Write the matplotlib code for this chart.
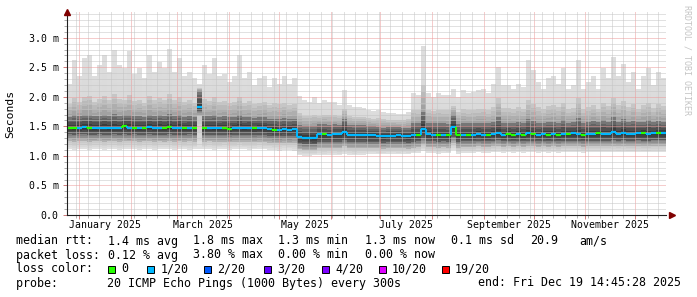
import numpy as np
import matplotlib
matplotlib.use("Agg")
import matplotlib.pyplot as plt
import matplotlib.dates as mdates
from matplotlib.colors import to_rgb
from matplotlib.patches import Rectangle
from matplotlib.ticker import MultipleLocator, FuncFormatter, NullFormatter

# %% Datos (ms), bins de 3 dias
start = np.datetime64("2024-12-24T14:45")
end = np.datetime64("2025-12-19T14:45:28")

smoke_top = [
    2.22, 2.62, 2.36, 2.65, 2.71, 2.36, 2.53, 2.71, 2.42, 2.79,
    2.53, 2.48, 2.77, 2.39, 2.48, 2.31, 2.71, 2.42, 2.59, 2.48,
    2.81, 2.42, 2.65, 2.36, 2.42, 2.31, 2.22, 2.53, 2.39, 2.65,
    2.36, 2.39, 2.25, 2.36, 2.70, 2.31, 2.42, 2.20, 2.31, 2.36,
    2.17, 2.31, 2.22, 2.36, 2.22, 2.31, 2.02, 1.94, 1.92, 2.00,
    1.89, 1.94, 1.92, 1.92, 1.86, 2.11, 1.86, 1.83, 1.82, 1.81,
    1.78, 1.76, 1.78, 1.74, 1.72, 1.72, 1.71, 1.71, 1.74, 2.06,
    2.03, 2.86, 2.06, 2.00, 2.06, 2.03, 2.03, 2.14, 2.00, 2.11,
    2.06, 2.08, 2.11, 2.14, 2.06, 2.22, 2.51, 2.20, 2.20, 2.14,
    2.22, 2.17, 2.62, 2.45, 2.25, 2.14, 2.31, 2.36, 2.22, 2.48,
    2.14, 2.20, 2.62, 2.14, 2.25, 2.36, 2.14, 2.48, 2.31, 2.68,
    2.36, 2.56, 2.25, 2.42, 2.14, 2.36, 2.48, 2.20, 2.42, 2.31,
]
smoke_p90 = [
    1.88, 1.98, 1.92, 2.00, 2.02, 1.92, 1.96, 2.02, 1.94, 2.04,
    1.96, 1.95, 2.03, 1.93, 1.95, 1.90, 2.02, 1.94, 1.98, 1.95,
    2.05, 1.94, 1.99, 1.92, 1.94, 1.90, 2.15, 1.96, 1.93, 1.99,
    1.92, 1.93, 1.90, 1.92, 2.00, 1.90, 1.93, 1.87, 1.90, 1.92,
    1.86, 1.89, 1.87, 1.90, 1.86, 1.88, 1.72, 1.68, 1.68, 1.70,
    1.68, 1.70, 1.69, 1.69, 1.67, 1.80, 1.67, 1.66, 1.65, 1.65,
    1.64, 1.63, 1.64, 1.62, 1.61, 1.61, 1.60, 1.60, 1.62, 1.78,
    1.77, 2.20, 1.78, 1.76, 1.78, 1.77, 1.77, 1.85, 1.74, 1.79,
    1.77, 1.78, 1.79, 1.80, 1.77, 1.82, 1.98, 1.81, 1.81, 1.79,
    1.82, 1.80, 1.95, 1.88, 1.82, 1.79, 1.84, 1.86, 1.82, 1.90,
    1.79, 1.81, 1.98, 1.79, 1.82, 1.86, 1.79, 1.90, 1.84, 1.98,
    1.86, 1.93, 1.82, 1.88, 1.79, 1.86, 1.90, 1.81, 1.88, 1.84,
]
smoke_p75 = [
    1.66, 1.69, 1.67, 1.70, 1.70, 1.67, 1.68, 1.70, 1.67, 1.71,
    1.68, 1.69, 1.70, 1.67, 1.68, 1.66, 1.70, 1.67, 1.69, 1.68,
    1.71, 1.67, 1.69, 1.66, 1.67, 1.66, 2.10, 1.68, 1.67, 1.69,
    1.66, 1.67, 1.65, 1.66, 1.69, 1.65, 1.66, 1.64, 1.65, 1.66,
    1.63, 1.63, 1.62, 1.64, 1.62, 1.63, 1.52, 1.50, 1.50, 1.51,
    1.54, 1.54, 1.53, 1.54, 1.53, 1.62, 1.53, 1.52, 1.52, 1.52,
    1.50, 1.50, 1.49, 1.48, 1.49, 1.49, 1.49, 1.48, 1.48, 1.55,
    1.55, 1.75, 1.56, 1.55, 1.55, 1.55, 1.54, 1.70, 1.54, 1.56,
    1.55, 1.55, 1.56, 1.56, 1.55, 1.57, 1.66, 1.56, 1.56, 1.55,
    1.57, 1.56, 1.62, 1.59, 1.56, 1.56, 1.58, 1.58, 1.56, 1.60,
    1.56, 1.57, 1.64, 1.56, 1.57, 1.59, 1.57, 1.60, 1.58, 1.66,
    1.58, 1.62, 1.57, 1.59, 1.57, 1.58, 1.60, 1.57, 1.59, 1.58,
]
median = [
    1.48, 1.47, 1.48, 1.49, 1.48, 1.47, 1.48, 1.48, 1.47, 1.48,
    1.48, 1.50, 1.48, 1.48, 1.47, 1.48, 1.49, 1.48, 1.48, 1.47,
    1.49, 1.48, 1.48, 1.47, 1.48, 1.48, 1.83, 1.47, 1.48, 1.47,
    1.47, 1.48, 1.46, 1.47, 1.48, 1.47, 1.48, 1.47, 1.47, 1.47,
    1.45, 1.44, 1.43, 1.45, 1.44, 1.45, 1.32, 1.31, 1.31, 1.30,
    1.37, 1.37, 1.36, 1.37, 1.37, 1.41, 1.36, 1.36, 1.36, 1.36,
    1.35, 1.35, 1.34, 1.33, 1.34, 1.34, 1.35, 1.34, 1.33, 1.35,
    1.36, 1.46, 1.37, 1.36, 1.35, 1.36, 1.35, 1.49, 1.35, 1.36,
    1.36, 1.36, 1.37, 1.36, 1.36, 1.37, 1.38, 1.36, 1.37, 1.36,
    1.37, 1.36, 1.38, 1.37, 1.36, 1.37, 1.36, 1.37, 1.36, 1.37,
    1.37, 1.38, 1.37, 1.36, 1.37, 1.37, 1.38, 1.37, 1.37, 1.40,
    1.37, 1.39, 1.37, 1.37, 1.38, 1.38, 1.37, 1.38, 1.38, 1.38,
]
smoke_p25 = [
    1.37, 1.36, 1.37, 1.37, 1.36, 1.36, 1.37, 1.36, 1.36, 1.37,
    1.36, 1.37, 1.36, 1.37, 1.36, 1.36, 1.37, 1.36, 1.36, 1.36,
    1.37, 1.36, 1.36, 1.36, 1.37, 1.36, 1.76, 1.36, 1.36, 1.36,
    1.36, 1.36, 1.35, 1.36, 1.36, 1.36, 1.36, 1.35, 1.36, 1.35,
    1.34, 1.33, 1.33, 1.34, 1.33, 1.34, 1.21, 1.20, 1.20, 1.20,
    1.24, 1.24, 1.24, 1.24, 1.24, 1.27, 1.24, 1.24, 1.24, 1.24,
    1.23, 1.23, 1.23, 1.22, 1.23, 1.23, 1.23, 1.23, 1.22, 1.24,
    1.25, 1.30, 1.25, 1.25, 1.24, 1.25, 1.24, 1.32, 1.24, 1.25,
    1.25, 1.25, 1.26, 1.25, 1.25, 1.26, 1.27, 1.25, 1.26, 1.25,
    1.26, 1.25, 1.26, 1.26, 1.25, 1.26, 1.25, 1.26, 1.25, 1.26,
    1.26, 1.26, 1.26, 1.25, 1.26, 1.26, 1.26, 1.26, 1.26, 1.27,
    1.26, 1.27, 1.26, 1.26, 1.27, 1.26, 1.26, 1.27, 1.27, 1.27,
]
smoke_p10 = [
    1.25, 1.24, 1.25, 1.25, 1.24, 1.25, 1.25, 1.24, 1.25, 1.25,
    1.24, 1.25, 1.25, 1.25, 1.24, 1.25, 1.25, 1.24, 1.25, 1.24,
    1.25, 1.24, 1.25, 1.24, 1.25, 1.24, 1.68, 1.24, 1.25, 1.24,
    1.24, 1.24, 1.23, 1.24, 1.24, 1.24, 1.24, 1.23, 1.24, 1.23,
    1.22, 1.21, 1.21, 1.22, 1.21, 1.22, 1.11, 1.10, 1.10, 1.10,
    1.13, 1.13, 1.13, 1.13, 1.13, 1.16, 1.13, 1.13, 1.13, 1.13,
    1.13, 1.13, 1.13, 1.12, 1.13, 1.13, 1.13, 1.13, 1.12, 1.14,
    1.15, 1.20, 1.15, 1.15, 1.14, 1.15, 1.14, 1.22, 1.14, 1.15,
    1.15, 1.15, 1.16, 1.15, 1.15, 1.16, 1.17, 1.15, 1.16, 1.15,
    1.16, 1.15, 1.16, 1.16, 1.15, 1.16, 1.15, 1.16, 1.15, 1.16,
    1.16, 1.16, 1.16, 1.15, 1.16, 1.16, 1.16, 1.16, 1.16, 1.17,
    1.16, 1.17, 1.16, 1.16, 1.17, 1.16, 1.16, 1.17, 1.17, 1.17,
]
smoke_min = [
    1.11, 1.10, 1.11, 1.12, 1.10, 1.11, 1.12, 1.10, 1.11, 1.12,
    1.10, 1.11, 1.12, 1.11, 1.10, 1.12, 1.11, 1.10, 1.11, 1.12,
    1.11, 1.10, 1.12, 1.11, 1.10, 1.11, 1.12, 1.11, 1.12, 1.10,
    1.11, 1.12, 1.10, 1.11, 1.12, 1.11, 1.10, 1.11, 1.12, 1.11,
    1.10, 1.10, 1.09, 1.10, 1.10, 1.09, 1.01, 1.00, 1.00, 1.01,
    1.02, 1.01, 1.02, 1.02, 1.01, 1.04, 1.02, 1.01, 1.02, 1.02,
    1.04, 1.04, 1.03, 1.03, 1.04, 1.04, 1.03, 1.04, 1.03, 1.05,
    1.05, 1.08, 1.05, 1.05, 1.04, 1.05, 1.05, 1.10, 1.04, 1.05,
    1.05, 1.05, 1.06, 1.05, 1.05, 1.06, 1.07, 1.05, 1.06, 1.05,
    1.06, 1.05, 1.06, 1.06, 1.05, 1.06, 1.05, 1.06, 1.05, 1.06,
    1.06, 1.06, 1.06, 1.05, 1.06, 1.06, 1.06, 1.06, 1.06, 1.07,
    1.06, 1.07, 1.06, 1.06, 1.07, 1.06, 1.06, 1.07, 1.07, 1.07,
]
# indice del color de perdida por bin (0 -> 0, 1 -> 1/20)
loss = [
    0, 0, 1, 1, 0, 1, 1, 1, 1, 1,
    1, 0, 1, 0, 1, 0, 1, 1, 1, 0,
    0, 1, 1, 0, 1, 0, 1, 0, 1, 1,
    1, 0, 0, 1, 1, 1, 1, 0, 1, 1,
    1, 0, 1, 1, 1, 1, 1, 1, 1, 1,
    1, 0, 1, 1, 1, 1, 1, 1, 1, 1,
    1, 1, 1, 1, 1, 1, 1, 1, 1, 1,
    0, 1, 1, 1, 0, 1, 0, 1, 0, 1,
    0, 1, 1, 1, 0, 1, 1, 1, 0, 0,
    1, 0, 1, 0, 1, 1, 0, 1, 0, 1,
    0, 1, 1, 0, 1, 1, 0, 1, 1, 1,
    1, 1, 1, 1, 1, 0, 1, 1, 0, 1,
]

loss_labels = ["0", "1/20", "2/20", "3/20", "4/20", "10/20", "19/20"]
loss_colors = ["#26ff00", "#00b8ff", "#0059ff", "#5e00ff", "#7e00ff", "#dd00ff", "#ff0000"]
month_labels = ["January 2025", "March 2025", "May 2025", "July 2025",
                "September 2025", "November 2025"]

rtt_items = ["median rtt:", "1.4 ms avg", "1.8 ms max", "1.3 ms min", "1.3 ms now",
             "0.1 ms sd", "20.9", "am/s"]
loss_items = ["packet loss:", "0.12 % avg", "3.80 % max", "0.00 % min", "0.00 % now"]
legend_probe = "probe:       20 ICMP Echo Pings (1000 Bytes) every 300s"
legend_end = "end: Fri Dec 19 14:45:28 2025"

# %% Figura
W, H = 697, 297
plt.rcParams["font.family"] = ["DejaVu Sans Mono"]
fig = plt.figure(figsize=(W / 100, H / 100), dpi=100)
fig.patch.set_facecolor("white")


def fx(x):
    return x / W


def fy(y):
    return 1 - y / H


ax = fig.add_axes([fx(67), fy(215), (666 - 67) / W, (215 - 12) / H])
ax.set_facecolor("white")

edges = mdates.date2num(start + np.arange(len(median) + 1) * np.timedelta64(3, "D"))

# humo: cada banda entre cuantiles con degradado de gris
bands = [
    (smoke_min, smoke_p10, "#e2e2e2", "#c6c6c6"),
    (smoke_p10, smoke_p25, "#b6b6b6", "#787878"),
    (smoke_p25, median, "#606060", "#2e2e2e"),
    (median, smoke_p75, "#323232", "#808080"),
    (smoke_p75, smoke_p90, "#9c9c9c", "#cccccc"),
    (smoke_p90, smoke_top, "#d9d9d9", "#dddddd"),
]
nsub = 4
for lo, hi, c0, c1 in bands:
    lo = np.array(lo)
    hi = np.array(hi)
    r0 = np.array(to_rgb(c0))
    r1 = np.array(to_rgb(c1))
    for j in range(nsub):
        a = lo + (hi - lo) * j / nsub
        b = lo + (hi - lo) * (j + 1) / nsub
        c = r0 + (r1 - r0) * (j + 0.5) / nsub
        ax.stairs(b, edges, baseline=a, fill=True, color=c, lw=0, zorder=1)

# mediana coloreada por perdida
med = np.array(median)
cols = [loss_colors[i] for i in loss]
ax.hlines(med, edges[:-1], edges[1:], colors=cols, lw=1.6, zorder=4)
small = np.abs(np.diff(med)) < 0.2
ax.vlines(edges[1:-1][small], med[:-1][small], med[1:][small],
          colors=np.array(cols[1:])[small], lw=1.4, zorder=4)

# ejes
ax.set_xlim(edges[0], mdates.date2num(end))
ax.set_ylim(0, 3.435)
ax.xaxis.set_major_locator(mdates.MonthLocator())
ax.xaxis.set_minor_locator(mdates.WeekdayLocator(byweekday=mdates.MO))
ax.xaxis.set_major_formatter(NullFormatter())
ax.yaxis.set_major_locator(MultipleLocator(0.5))
ax.yaxis.set_minor_locator(MultipleLocator(0.1))
ax.yaxis.set_major_formatter(FuncFormatter(lambda v, p: "0.0" if v == 0 else f"{v:.1f} m"))

ax.set_axisbelow(False)
ax.grid(which="minor", color="#c4c4c4", ls=(0, (1, 1)), lw=0.72)
ax.grid(which="major", color="#ec9a9a", ls=(0, (1, 1)), lw=0.72)
ax.tick_params(which="major", length=3, width=0.72, color="#d08080", labelsize=7.1, pad=3)
ax.tick_params(which="minor", length=2, width=0.72, color="#b0b0b0")
for s in ["top", "right"]:
    ax.spines[s].set_visible(False)
for s in ["left", "bottom"]:
    ax.spines[s].set_linewidth(0.8)
    ax.spines[s].set_color("#202020")
    ax.spines[s].set_zorder(5)

# etiquetas de meses centradas en el mes
for i, lab in enumerate(month_labels):
    m0 = np.datetime64(f"2025-{2 * i + 1:02d}-01")
    m1 = np.datetime64(f"2025-{2 * i + 2:02d}-01")
    xm = (mdates.date2num(m0) + mdates.date2num(m1)) / 2
    ax.text(xm, -10 / 203, lab, transform=ax.get_xaxis_transform(),
            ha="center", va="center", fontsize=7.1)

# flechas
ax.plot([0], [1.0], marker="^", ms=5, color="#800000", transform=ax.transAxes, clip_on=False, zorder=6)
ax.plot([1.01], [0], marker=">", ms=5, color="#800000", transform=ax.transAxes, clip_on=False, zorder=6)

fig.text(fx(10), fy(114), "Seconds", rotation=90, ha="center", va="center", fontsize=8.2)
fig.text(fx(687), fy(5), "RRDTOOL / TOBI OETIKER", rotation=270, ha="center", va="top",
         fontsize=6, color="#c4c4c4")

# leyenda (columnas justificadas como rrdtool)
fs = 8.4
col_x = [16, 107.7, 192.7, 278.3, 365, 451, 530, 579]
for x, t in zip(col_x, rtt_items):
    fig.text(fx(x), fy(241), t, ha="left", va="center", fontsize=fs)
for x, t in zip(col_x, loss_items):
    fig.text(fx(x), fy(255), t, ha="left", va="center", fontsize=fs)
fig.text(fx(16), fy(269), "loss color:", ha="left", va="center", fontsize=fs)
box_x = [108, 147, 203.5, 263.5, 322, 378.5, 441.5]
for bx, lab, c in zip(box_x, loss_labels, loss_colors):
    fig.add_artist(Rectangle((fx(bx), fy(272.5)), 7 / W, 7 / H, transform=fig.transFigure,
                             facecolor=c, edgecolor="black", lw=0.7))
    fig.text(fx(bx + 13.5), fy(269), lab, ha="left", va="center", fontsize=fs)
fig.text(fx(16), fy(283), legend_probe, ha="left", va="center", fontsize=fs)
fig.text(fx(478), fy(283), legend_end, ha="left", va="center", fontsize=fs)

fig.savefig("out.png", dpi=100)
